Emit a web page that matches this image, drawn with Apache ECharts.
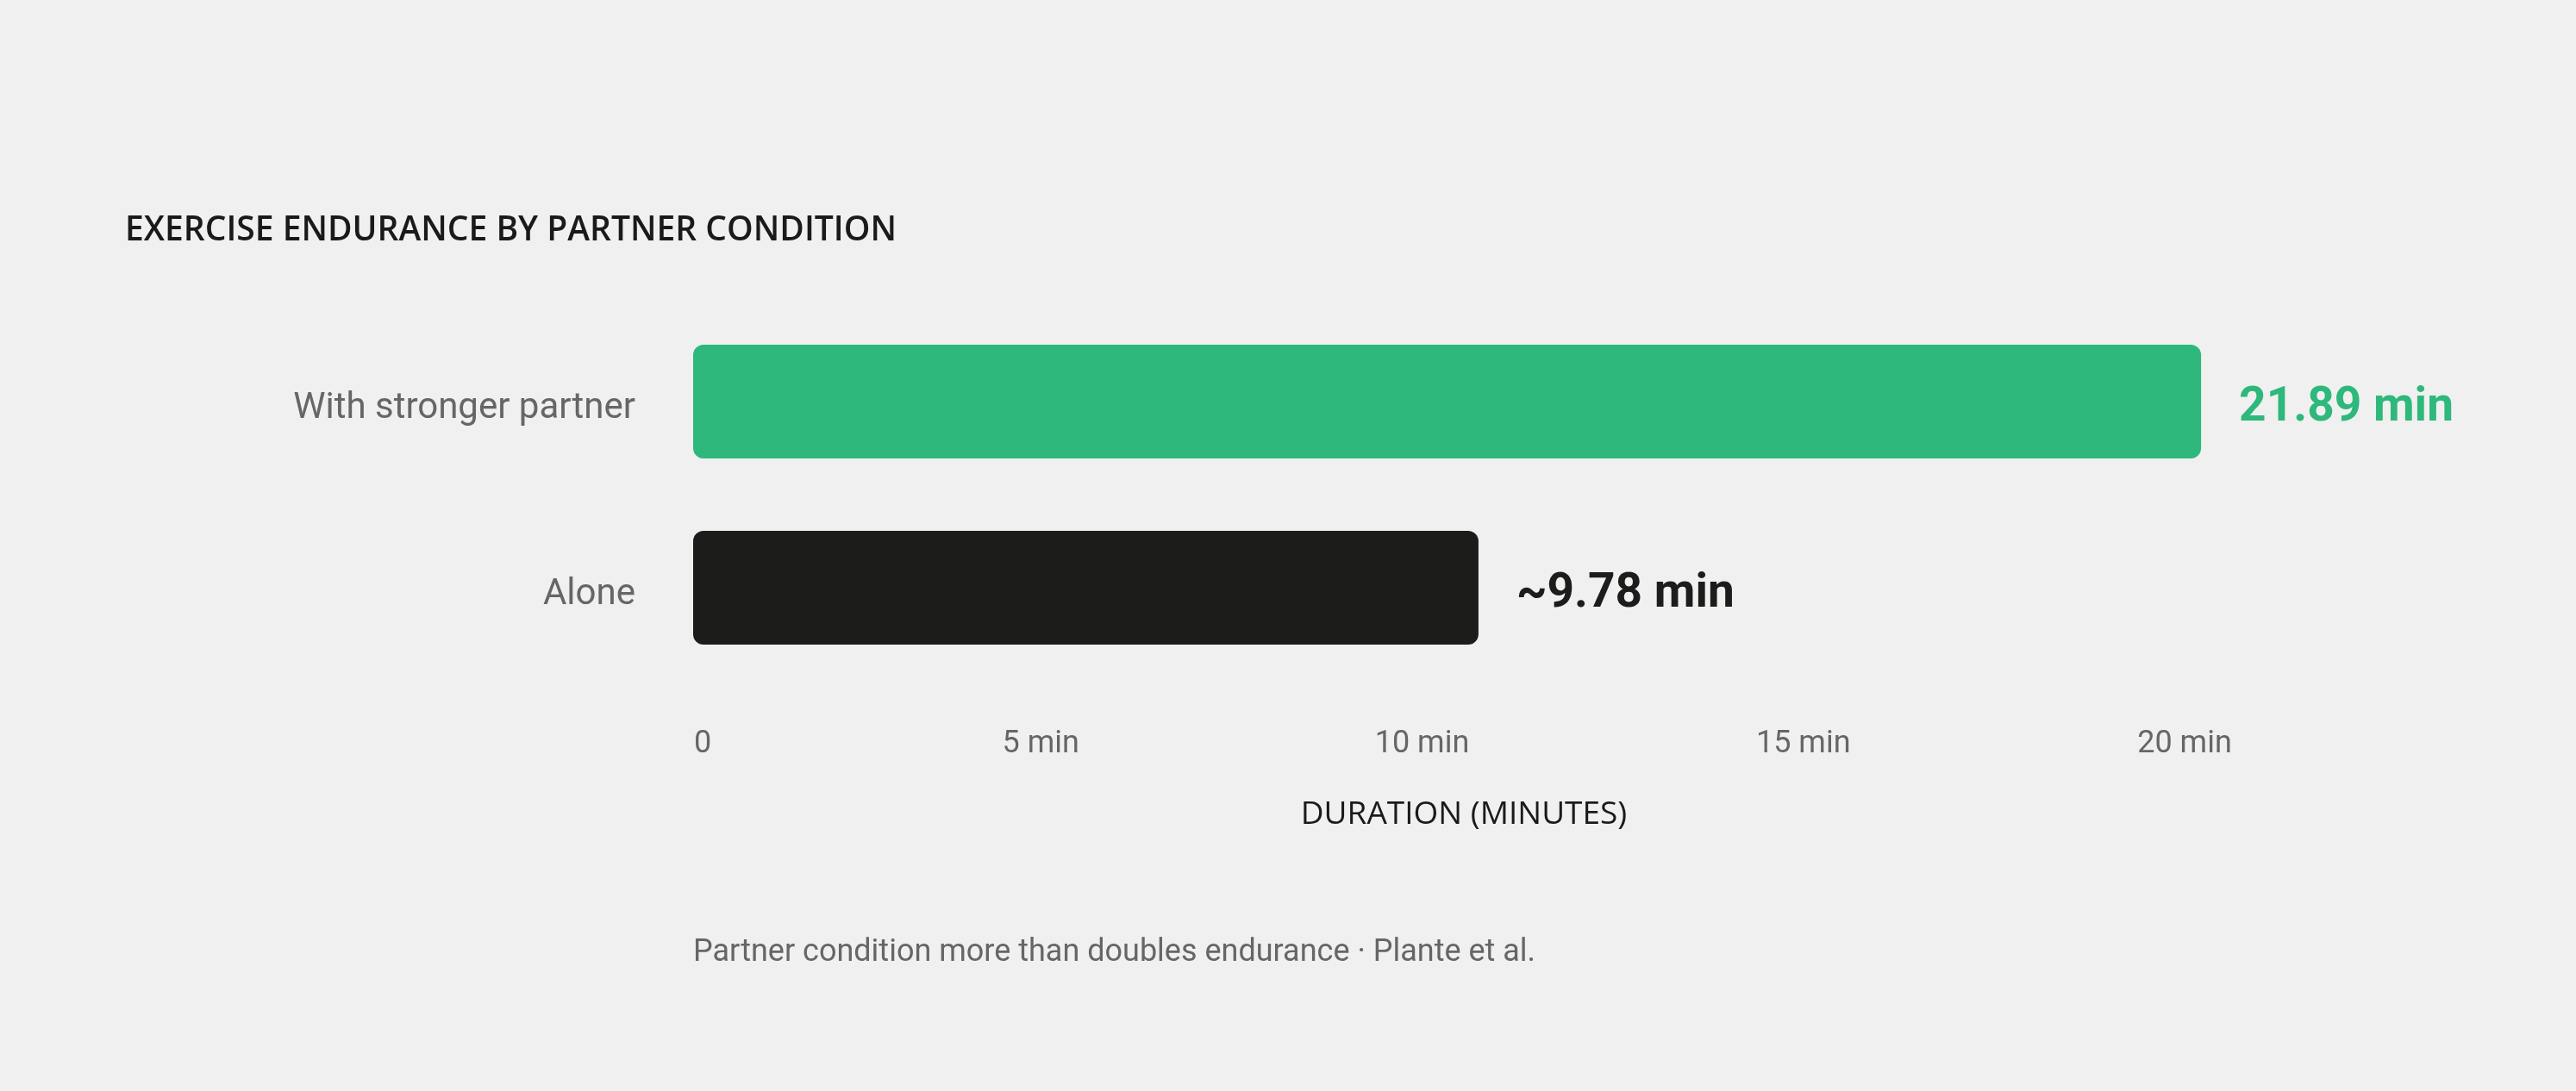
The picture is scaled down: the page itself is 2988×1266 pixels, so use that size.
<!DOCTYPE html>
<html lang="en">
<head>
    <meta charset="UTF-8">
    <title>Exercise endurance by partner condition</title>
    <script src="https://cdn.jsdelivr.net/npm/echarts@6.0.0/dist/echarts.min.js"></script>
    <style>
        html, body {
            margin: 0;
            padding: 0;
            background-color: #f0f0f0;
        }
        #chart {
            width: 2988px;
            height: 1266px;
        }
    </style>
</head>
<body>
    <div id="chart"></div>

    <script>
        // data
        const categories = ['With stronger partner', 'Alone'];
        // bar lengths as drawn (the "Alone" bar is drawn longer than its label says)
        const barMinutes = [21.89, 11.4];
        const valueLabels = ['21.89 min', '~9.78 min'];
        const barColors = ['#2eb87b', '#1c1c1a'];
        const tickMinutes = [0, 5, 10, 15, 20];

        const FONT = 'Roboto, "Noto Sans", sans-serif';
        const CAPS_FONT = '"Open Sans", Roboto, sans-serif';

        const myChart = echarts.init(document.getElementById('chart'));

        const option = {
            backgroundColor: '#f0f0f0',
            animation: false,
            textStyle: { fontFamily: FONT },
            title: [
                {
                    text: 'EXERCISE ENDURANCE BY PARTNER CONDITION',
                    left: 145,
                    top: 248,
                    padding: 0,
                    textStyle: {
                        fontFamily: CAPS_FONT,
                        fontSize: 39,
                        fontWeight: 600,
                        color: '#1a1a1a'
                    }
                },
                {
                    text: 'DURATION (MINUTES)',
                    left: 1698,
                    top: 927,
                    padding: 0,
                    textAlign: 'center',
                    textStyle: {
                        fontFamily: CAPS_FONT,
                        fontSize: 37,
                        fontWeight: 400,
                        color: '#1a1a1a'
                    }
                },
                {
                    text: 'Partner condition more than doubles endurance · Plante et al.',
                    left: 804,
                    top: 1088,
                    padding: 0,
                    textStyle: {
                        fontFamily: FONT,
                        fontSize: 36,
                        fontWeight: 400,
                        color: '#666666'
                    }
                }
            ],
            grid: [
                // bars
                { left: 804, right: 506, top: 358, bottom: 476 },
                // tick row
                { left: 765, right: 454, top: 358, bottom: 476 }
            ],
            xAxis: [
                {
                    type: 'value',
                    gridIndex: 0,
                    min: 0,
                    max: 21,
                    show: false
                },
                {
                    type: 'value',
                    gridIndex: 1,
                    position: 'bottom',
                    min: tickMinutes[0],
                    max: tickMinutes[tickMinutes.length - 1],
                    interval: 5,
                    axisLine: { show: false },
                    axisTick: { show: false },
                    splitLine: { show: false },
                    axisLabel: {
                        margin: 56,
                        fontFamily: FONT,
                        fontSize: 36,
                        color: '#666666',
                        showMinLabel: true,
                        showMaxLabel: true,
                        alignMinLabel: 'left',
                        formatter: function (v) {
                            return v === 0 ? '{zero|0}' : v + ' min';
                        },
                        rich: {
                            zero: {
                                fontFamily: FONT,
                                fontSize: 36,
                                color: '#666666',
                                padding: [0, 0, 0, 40]
                            }
                        }
                    }
                }
            ],
            yAxis: [
                {
                    type: 'category',
                    gridIndex: 0,
                    data: categories,
                    inverse: true,
                    axisLine: { show: false },
                    axisTick: { show: false },
                    splitLine: { show: false },
                    axisLabel: {
                        margin: 67,
                        formatter: v => '{cat|' + v + '}',
                        rich: {
                            cat: {
                                fontFamily: FONT,
                                fontSize: 42,
                                color: '#666666',
                                padding: [16, 0, 0, 0]
                            }
                        }
                    }
                },
                {
                    type: 'category',
                    gridIndex: 1,
                    data: categories,
                    show: false
                }
            ],
            series: [{
                type: 'bar',
                xAxisIndex: 0,
                yAxisIndex: 0,
                barWidth: 132,
                clip: false,
                data: barMinutes.map((v, i) => ({
                    value: v,
                    itemStyle: { color: barColors[i], borderRadius: 12 },
                    label: { color: barColors[i] }
                })),
                label: {
                    show: true,
                    position: 'right',
                    distance: 44,
                    offset: [0, 8],
                    fontFamily: FONT,
                    fontSize: 55,
                    fontWeight: 700,
                    formatter: p => valueLabels[p.dataIndex]
                }
            }]
        };

        myChart.setOption(option);

        window.addEventListener('resize', function () {
            myChart.resize();
        });
    </script>
</body>
</html>
